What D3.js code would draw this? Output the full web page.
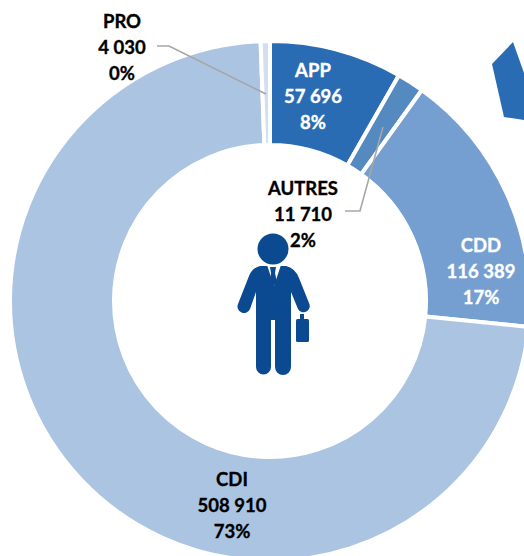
<!DOCTYPE html>
<html>
<head>
<meta charset="utf-8">
<script src="https://cdn.jsdelivr.net/npm/d3@7"></script>
<style>
html,body{margin:0;padding:0;background:#fff;overflow:hidden}
text{font-family:Lato,"Open Sans",sans-serif;font-weight:700;font-size:18.5px;text-anchor:middle;stroke-width:0.35px}
</style>
</head>
<body>
<svg id="chart" width="524" height="556"></svg>
<script>
// values, clockwise from the top
var categories=["APP","AUTRES","CDD","CDI","PRO"]
var values=[57696,11710,116389,508910,4030]
var percents=["8%","2%","17%","73%","0%"]
var colors=["#2a6cb4","#558ac1","#749fd0","#abc4e2","#d3dff0"]
var labelColors=["#fff","#000","#fff","#000","#000"]
var labelAnchors=[[313,71],[303,189],[481,246],[232,480],[122,22]]

var center={x:270,y:301}
var radius={outer:260,inner:156}

var svg=d3.select("#chart")
var fmt=d3.formatLocale({decimal:",",thousands:" ",grouping:[3],currency:["","€"]}).format(",d")

var drawDonut=function()
    {
        var pie=d3.pie().sort(null).value(function(d){return d.value})
        var arc=d3.arc().innerRadius(radius.inner).outerRadius(radius.outer)
        var rows=categories.map(function(c,i){return {name:c,value:values[i]}})

        svg.append("g")
            .attr("transform","translate("+center.x+","+center.y+")")
            .selectAll("path")
            .data(pie(rows))
            .enter()
            .append("path")
            .attr("d",arc)
            .attr("fill",function(d,i){return colors[i]})
            .attr("stroke","#fff")
            .attr("stroke-width",4)
    }

// piece of another shape cut by the right edge
var drawFragment=function()
    {
        svg.append("path")
            .attr("d","M492 64L513 42L524 73V120L504 117Z")
            .attr("fill",colors[0])
    }

var drawLeaders=function()
    {
        var line=d3.line()
        svg.selectAll(".leader")
            .data([[[157,46],[169,46],[266,94]],[[345,211],[360,211],[383,127]]])
            .enter()
            .append("path")
            .attr("class","leader")
            .attr("d",line)
            .attr("fill","none")
            .attr("stroke","#a6a6a6")
            .attr("stroke-width",1.6)
    }

var drawPerson=function()
    {
        var man=svg.append("g").attr("fill","#0b4a90")
        man.append("circle").attr("cx",273).attr("cy",249).attr("r",15.5)
        man.append("path").attr("d",
            "M260 266L286 266Q295 268 299 278L309 303A6 6 0 0 1 298 309L291 292"+
            "V367A7.5 7.5 0 0 1 275 367V320H271V367A7.5 7.5 0 0 1 256 367V292"+
            "L250 309A6.5 6.5 0 0 1 238 304L249 276Q252 268 260 266Z")
        man.append("path").attr("d","M267 265H281L274 286Z").attr("fill","#fff")
        man.append("path").attr("d","M270 267H276L275 273L277 283L273 286L270 283L271 273Z")
        man.append("rect").attr("x",296).attr("y",319).attr("width",13).attr("height",23).attr("rx",1.5)
        man.append("rect").attr("x",300).attr("y",314).attr("width",4).attr("height",6)
    }

var drawLabels=function()
    {
        var groups=svg.selectAll(".lab")
            .data(categories)
            .enter()
            .append("g")
            .attr("class","lab")
            .attr("fill",function(d,i){return labelColors[i]})
            .attr("stroke",function(d,i){return labelColors[i]})
        groups.each(function(c,i)
            {
                var lines=[c,fmt(values[i]),percents[i]]
                d3.select(this).selectAll("text")
                    .data(lines)
                    .enter()
                    .append("text")
                    .attr("x",labelAnchors[i][0])
                    .attr("y",function(d,j){return labelAnchors[i][1]+j*26})
                    .attr("dy","0.35em")
                    .text(function(d){return d})
            })
    }

drawDonut()
drawFragment()
drawLeaders()
drawPerson()
drawLabels()
</script>
</body>
</html>
